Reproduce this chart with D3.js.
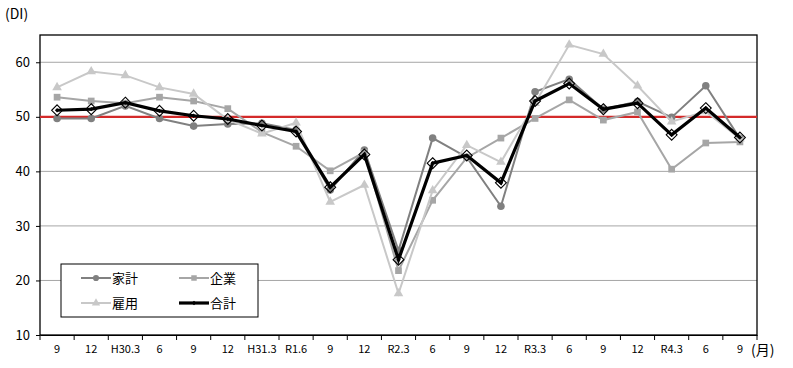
<!DOCTYPE html>
<html><head><meta charset="utf-8">
<script src="https://cdn.jsdelivr.net/npm/d3@7"></script>
<style>body{margin:0;background:#fff}svg{display:block}</style>
</head><body><svg id="c" width="793" height="368"></svg>
<script>
const categories = ["9","12","H30.3","6","9","12","H31.3","R1.6","9","12","R2.3","6","9","12","R3.3","6","9","12","R4.3","6","9"];
const household = [49.7,49.7,52.0,49.7,48.3,48.7,48.8,47.6,36.6,43.9,25.5,46.1,42.6,33.6,54.6,56.9,51.4,52.8,49.9,55.7,46.0];
const corporate = [53.6,52.9,52.5,53.6,52.9,51.5,47.2,44.6,40.1,43.5,21.8,34.7,42.5,46.1,49.7,53.1,49.4,50.9,40.4,45.2,45.4];
const employment = [55.4,58.3,57.6,55.4,54.2,49.5,46.9,48.9,34.4,37.5,17.6,36.5,44.8,41.7,52.5,63.2,61.5,55.7,49.1,51.0,46.0];
const total = [51.2,51.4,52.6,51.1,50.2,49.6,48.4,47.3,37.1,43.1,23.8,41.5,42.9,37.9,52.9,56.1,51.4,52.5,46.7,51.6,46.2];
const yTicks = [10,20,30,40,50,60];
const seriesNames = ["家計","企業","雇用","合計"];

const svg = d3.select("#c");
const L=40,R=757,T=35,B=335;
const font = "'Noto Sans CJK JP','Noto Sans',sans-serif";
const x = d3.scaleBand().domain(d3.range(categories.length)).range([L,R]).padding(0);
const y = d3.scaleLinear().domain([10,65]).range([B,T]);
const cx = i => x(i)+x.bandwidth()/2;

// gridlines
svg.append("g").selectAll("line").data(yTicks.filter(d=>d>10)).join("line")
  .attr("x1",L).attr("x2",R).attr("y1",d=>y(d)).attr("y2",d=>y(d))
  .attr("stroke","#a6a6a6").attr("stroke-width",1);

// frame
svg.append("rect").attr("x",L).attr("y",T).attr("width",R-L).attr("height",B-T)
  .attr("fill","none").attr("stroke","#000").attr("stroke-width",1.3);

// axes
const yAxis = svg.append("g").attr("transform",`translate(${L},0)`)
  .call(d3.axisLeft(y).tickValues(yTicks).tickSize(4).tickPadding(6));
yAxis.select(".domain").remove();
yAxis.selectAll("text").attr("font-family",font).attr("font-size",13).attr("fill","#000");
yAxis.selectAll("line").attr("stroke","#000");

const xAxis = svg.append("g").attr("transform",`translate(0,${B})`)
  .call(d3.axisBottom(x).tickFormat(i=>categories[i]).tickSize(0).tickPadding(10));
xAxis.select(".domain").attr("stroke","#000");
xAxis.selectAll("text").attr("font-family",font).attr("font-size",11).attr("fill","#000");
// ticks at band edges
svg.append("g").selectAll("line").data(d3.range(categories.length+1)).join("line")
  .attr("x1",i=>L+i*x.bandwidth()).attr("x2",i=>L+i*x.bandwidth())
  .attr("y1",B).attr("y2",B+5).attr("stroke","#000");

// red reference line at 50
svg.append("line").attr("x1",L).attr("x2",R).attr("y1",y(50)).attr("y2",y(50))
  .attr("stroke","#d42a2a").attr("stroke-width",2.2);

const line = d3.line().x((d,i)=>cx(i)).y(d=>y(d));
const series = [
  {name:"家計",data:household,color:"#808080",sym:d3.symbolCircle,size:45},
  {name:"企業",data:corporate,color:"#a6a6a6",sym:d3.symbolSquare,size:45},
  {name:"雇用",data:employment,color:"#c8c8c8",sym:d3.symbolTriangle,size:40},
];
series.forEach(s=>{
  svg.append("path").datum(s.data).attr("d",line).attr("fill","none")
    .attr("stroke",s.color).attr("stroke-width",2);
  svg.append("g").selectAll("path").data(s.data).join("path")
    .attr("transform",(d,i)=>`translate(${cx(i)},${y(d)})`)
    .attr("d",d3.symbol(s.sym,s.size)).attr("fill",s.color);
});
// total
svg.append("path").datum(total).attr("d",line).attr("fill","none")
  .attr("stroke","#000").attr("stroke-width",3.2);
svg.append("g").selectAll("path").data(total).join("path")
  .attr("transform",(d,i)=>`translate(${cx(i)},${y(d)})`)
  .attr("d",d3.symbol(d3.symbolDiamond2,75)).attr("fill","none")
  .attr("stroke","#000").attr("stroke-width",1.1);
svg.append("g").selectAll("path").data(total).join("path")
  .attr("transform",(d,i)=>`translate(${cx(i)},${y(d)})`)
  .attr("d",d3.symbol(d3.symbolDiamond2,12)).attr("fill","#000");

// legend
const lg = svg.append("g");
lg.append("rect").attr("x",61).attr("y",264).attr("width",197).attr("height",53)
  .attr("fill","#fff").attr("stroke","#000").attr("stroke-width",1);
const legItems = [
  {s:series[0],x:81,y:278},{s:series[1],x:179,y:278},
  {s:series[2],x:81,y:303},{s:{name:"合計",color:"#000",sym:d3.symbolDiamond2,size:14},x:179,y:303,bold:true}
];
legItems.forEach(it=>{
  lg.append("line").attr("x1",it.x).attr("x2",it.x+30).attr("y1",it.y).attr("y2",it.y)
    .attr("stroke",it.s.color).attr("stroke-width",it.bold?3.2:2);
  lg.append("path").attr("transform",`translate(${it.x+15},${it.y})`)
    .attr("d",d3.symbol(it.s.sym,it.bold?14:30)).attr("fill",it.s.color);
  lg.append("text").attr("x",it.x+31).attr("y",it.y+5).text(it.s.name)
    .attr("font-family",font).attr("font-size",13).attr("fill","#000");
});

// unit labels
svg.append("text").attr("x",5).attr("y",19).text("(DI)")
  .attr("font-family",font).attr("font-size",14).attr("fill","#000");
svg.append("text").attr("x",751).attr("y",355).text("(月)")
  .attr("font-family",font).attr("font-size",14).attr("fill","#000");
</script></body></html>
